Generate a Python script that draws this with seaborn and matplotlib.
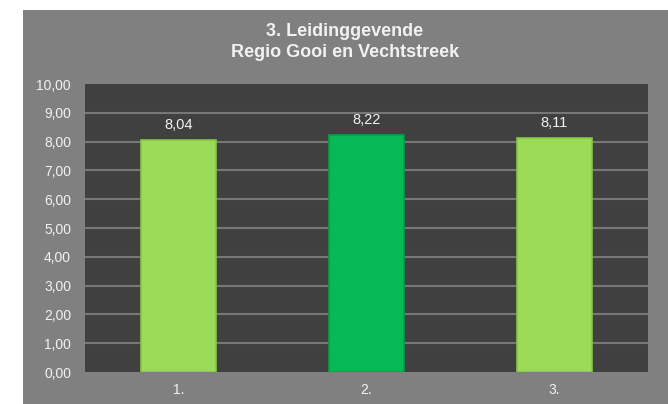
import matplotlib
matplotlib.use('Agg')
from matplotlib import pyplot as plt
from matplotlib.patches import Rectangle
from matplotlib.ticker import FuncFormatter, MultipleLocator
import seaborn as sns
import pandas as pd

# chart data
categories = ['1.', '2.', '3.']
scores = [8.04, 8.22, 8.11]
bar_colors = ['#9BDB58', '#05BA55', '#9BDB58']
edge_colors = ['#88C447', '#04A049', '#88C447']
title = '3. Leidinggevende\nRegio Gooi en Vechtstreek'

sns.set_theme(style='dark')
plt.rcParams['font.family'] = ['Liberation Sans', 'DejaVu Sans']

fig = plt.figure(figsize=(6.68, 4.04), dpi=100)
fig.patch.set_facecolor('white')
# grey chart panel behind the plot
fig.patches.append(Rectangle((23 / 668, 0), 1 - 23 / 668, 1 - 10 / 404,
                             transform=fig.transFigure, facecolor='#808080',
                             edgecolor='none', zorder=-5))

ax = fig.add_axes([85 / 668, 1 - 372 / 404, 563 / 668, 288 / 404])
ax.set_facecolor('#404040')

df = pd.DataFrame({'cat': categories, 'score': scores})
sns.barplot(data=df, x='cat', y='score', hue='cat', palette=bar_colors,
            saturation=1, width=0.40, legend=False, ax=ax, zorder=3)
for patch, ec in zip(ax.patches, edge_colors):
    patch.set_edgecolor(ec)
    patch.set_linewidth(1.2)

for i, v in enumerate(scores):
    ax.text(i, v + 0.52, f'{v:.2f}'.replace('.', ','), ha='center', va='center',
            color='#F2F2F2', fontsize=10.5)

ax.set_ylim(0, 10)
ax.set_xlim(-0.5, 2.5)
ax.yaxis.set_major_locator(MultipleLocator(1))
ax.yaxis.set_major_formatter(FuncFormatter(lambda y, _: f'{y:.2f}'.replace('.', ',')))
for y in range(1, 10):
    ax.axhline(y, color='#777777', lw=1.5, zorder=1)
ax.grid(False)
for s in ax.spines.values():
    s.set_visible(False)
ax.tick_params(axis='both', colors='#F2F2F2', labelsize=10, length=0)
ax.tick_params(axis='y', pad=10)
ax.tick_params(axis='x', pad=8)
ax.set_xlabel('')
ax.set_ylabel('')

fig.text(345 / 668, 1 - 42 / 404, title, ha='center', va='center',
         color='#F2F2F2', fontsize=13, fontweight='bold', linespacing=1.35)

fig.savefig('out.png', dpi=100)
plt.close(fig)
